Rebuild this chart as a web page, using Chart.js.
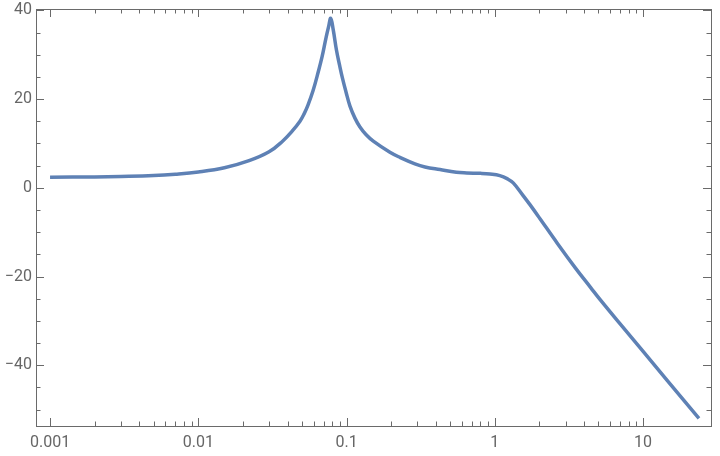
<!DOCTYPE html>
<html>
<head>
<meta charset="utf-8">
<script src="https://cdn.jsdelivr.net/npm/chart.js@4/dist/chart.umd.min.js"></script>
<style>
  body { margin: 0; background: #fff; }
  #wrap { width: 720px; height: 456px; position: relative; }
</style>
</head>
<body>
<div id="wrap"><canvas id="myChart"></canvas></div>
<script>
// 주파수 (가로축, 로그)
const freq = [0.001, 0.002, 0.003, 0.005, 0.007, 0.01, 0.015, 0.022, 0.03, 0.037, 0.0428, 0.0485,
  0.0516, 0.0549, 0.0593, 0.0645, 0.0683, 0.0726, 0.0755, 0.0782, 0.0813, 0.0855, 0.0896, 0.0938,
  0.0991, 0.1054, 0.1139, 0.1231, 0.1351, 0.1514, 0.196, 0.229, 0.289, 0.338, 0.427, 0.55, 0.646,
  0.8, 0.927, 1.08, 1.218, 1.33, 1.547, 1.725, 2.0, 2.65, 3.5, 4.43, 5.18, 7, 10, 15, 23.8];
// 크기 (dB)
const gain = [2.4, 2.45, 2.55, 2.75, 3.05, 3.55, 4.5, 6.1, 8.1, 10.5, 12.7, 15.0,
  16.6, 18.65, 21.8, 26.2, 29.5, 33.75, 36.2, 38.2, 35.6, 31.0, 27.7, 24.7,
  21.6, 18.4, 15.7, 13.7, 12.0, 10.5, 8.0, 6.85, 5.4, 4.7, 4.1, 3.5, 3.35,
  3.25, 3.1, 2.75, 2.0, 1.1, -1.7, -3.8, -6.8, -12.6, -18.1, -22.5, -25.4, -30.7, -36.9, -44.0, -52.0];

// 눈금
const xMajor = [0.001, 0.01, 0.1, 1, 10];
const xMinor = [0.002, 0.003, 0.004, 0.005, 0.006, 0.007, 0.008, 0.009,
  0.02, 0.03, 0.04, 0.05, 0.06, 0.07, 0.08, 0.09,
  0.2, 0.3, 0.4, 0.5, 0.6, 0.7, 0.8, 0.9,
  2, 3, 4, 5, 6, 7, 8, 9];
const yMajor = [-40, -20, 0, 20, 40];
const yMinor = [-50, -45, -35, -30, -25, -15, -10, -5, 5, 10, 15, 25, 30, 35];

const frameColor = '#6a6a6a';

// 테두리와 안쪽 눈금 그리기
const frameTicks = {
  id: 'frameTicks',
  afterDraw(chart) {
    const { ctx, chartArea: a, scales } = chart;
    const xs = scales.x, ys = scales.y;
    ctx.save();
    ctx.strokeStyle = frameColor;
    ctx.lineWidth = 1;
    ctx.strokeRect(Math.round(a.left) + 0.5, Math.round(a.top) + 0.5,
      Math.round(a.right - a.left), Math.round(a.bottom - a.top));
    ctx.beginPath();
    const xt = (v, len) => {
      const px = Math.round(xs.getPixelForValue(v)) + 0.5;
      ctx.moveTo(px, a.bottom); ctx.lineTo(px, a.bottom - len);
      ctx.moveTo(px, a.top); ctx.lineTo(px, a.top + len);
    };
    const yt = (v, len) => {
      const py = Math.round(ys.getPixelForValue(v)) + 0.5;
      ctx.moveTo(a.left, py); ctx.lineTo(a.left + len, py);
      ctx.moveTo(a.right, py); ctx.lineTo(a.right - len, py);
    };
    xMajor.forEach(v => xt(v, 8));
    xMinor.forEach(v => xt(v, 4.5));
    yMajor.forEach(v => yt(v, 8));
    yMinor.forEach(v => yt(v, 4.5));
    ctx.stroke();
    ctx.restore();
  }
};

const ctx = document.getElementById('myChart').getContext('2d');
const myChart = new Chart(ctx, {
  type: 'line',
  data: {
    datasets: [{
      data: freq.map((f, i) => ({ x: f, y: gain[i] })),
      borderColor: 'rgb(94, 129, 181)',
      borderWidth: 3.5,
      pointRadius: 0,
      tension: 0.4,
      fill: false
    }]
  },
  options: {
    responsive: true,
    maintainAspectRatio: false,
    animation: false,
    layout: { padding: { top: 9, right: 9, left: 0, bottom: 0 } },
    plugins: { legend: { display: false }, tooltip: { enabled: false } },
    scales: {
      x: {
        type: 'logarithmic',
        min: 0.000804,
        max: 28.7,
        grid: { display: false, drawTicks: false },
        border: { display: false },
        afterBuildTicks: (s) => { s.ticks = xMajor.map(v => ({ value: v, major: true })); },
        afterFit: (s) => { s.height = 30; s.paddingLeft = 0; s.paddingRight = 0; },
        ticks: {
          padding: 7,
          color: '#666',
          font: { family: 'Roboto', size: 16 },
          maxRotation: 0,
          autoSkip: false,
          callback: (v) => String(v)
        }
      },
      y: {
        min: -53.7,
        max: 40.3,
        grid: { display: false, drawTicks: false },
        border: { display: false },
        afterBuildTicks: (s) => { s.ticks = yMajor.map(v => ({ value: v })); },
        afterFit: (s) => { s.width = 36; s.paddingTop = 0; s.paddingBottom = 0; },
        ticks: {
          padding: 4,
          color: '#666',
          font: { family: 'Roboto', size: 16 },
          callback: (v) => v < 0 ? '\u2212' + Math.abs(v) : String(v)
        }
      }
    }
  },
  plugins: [frameTicks]
});
</script>
</body>
</html>
